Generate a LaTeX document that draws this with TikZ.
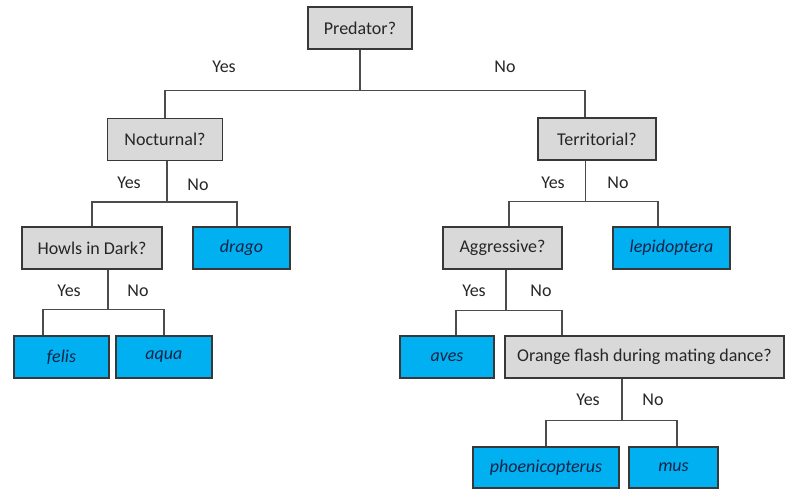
\documentclass[tikz,border=0pt]{standalone}
\usepackage{fontspec}
\setmainfont{Carlito}
\begin{document}
\begin{tikzpicture}[x=1pt,y=-1pt,
  font=\fontsize{18}{20}\selectfont,
  box/.style={draw=black!78,line width=1.4pt,minimum height=42pt,inner sep=0pt,anchor=center},
  question/.style={box,fill=black!15,text=black!85},
  leaf/.style={box,fill=cyan!70!blue!90!white,fill={rgb,255:red,0;green,176;blue,240},text={rgb,255:red,20;green,35;blue,70},font=\fontsize{18}{20}\selectfont\itshape},
  link/.style={draw=black!70,line width=1.4pt},
  lbl/.style={text=black!85,inner sep=0pt}]
\useasboundingbox (0,0) rectangle (788,489);

% decision nodes
\node[question,minimum width=104pt] (pred)  at (360,28)   {Predator?};
\node[question,minimum width=115pt] (noct)  at (165,139.5) {Nocturnal?};
\node[question,minimum width=118pt] (terr)  at (597,139)  {Territorial?};
\node[question,minimum width=140pt] (howl)  at (92,248)   {Howls in Dark?};
\node[question,minimum width=119pt] (aggr)  at (502.5,248) {Aggressive?};
\node[question,minimum width=279pt] (orng)  at (644.5,357) {Orange flash during mating dance?};

% leaves
\node[leaf,minimum width=97pt]  (drago) at (241.5,248) {drago};
\node[leaf,minimum width=117pt] (lepi)  at (671.5,248) {lepidoptera};
\node[leaf,minimum width=95pt]  (felis) at (61.5,357)  {felis};
\node[leaf,minimum width=96pt]  (aqua)  at (164,357)   {aqua};
\node[leaf,minimum width=94pt]  (aves)  at (447,357)   {aves};
\node[leaf,minimum width=146pt,minimum height=41pt] (phoe) at (546,467.5) {phoenicopterus};
\node[leaf,minimum width=89pt,minimum height=41pt]  (mus)  at (673.5,467.5) {mus};

% elbow connectors
\draw[link] (pred.south) -- ++(0,41) coordinate (jpred);
\draw[link] (noct.north) |- (jpred) -| ([xshift=-12pt]terr.north);

\draw[link] ([xshift=2pt]noct.south) -- ++(0,41) coordinate (jnoct);
\draw[link] (howl.north) |- (jnoct) -| ([xshift=-4.5pt]drago.north);

\draw[link] ([xshift=-11.5pt]terr.south) -- ++(0,41) coordinate (jterr);
\draw[link] ([xshift=6.5pt]aggr.north) |- (jterr) -| ([xshift=-13.5pt]lepi.north);

\draw[link] ([xshift=16pt]howl.south) -- ++(0,40) coordinate (jhowl);
\draw[link] ([xshift=-18.5pt]felis.north) |- (jhowl) -| (aqua.north);

\draw[link] ([xshift=3.5pt]aggr.south) -- ++(0,41) coordinate (jaggr);
\draw[link] ([xshift=9pt]aves.north) |- (jaggr) -| ([xshift=-82.5pt]orng.north);

\draw[link] ([xshift=-22.5pt]orng.south) -- ++(0,42) coordinate (jorng);
\draw[link] (phoe.north) |- (jorng) -| ([xshift=3.5pt]mus.north);

% branch labels
\node[lbl] (y1) at (224,67) {Yes};  \node[lbl] (n1) at (505,67) {No};
\node[lbl] (y2) at (129,183) {Yes}; \node[lbl] (n2) at (198,185) {No};
\node[lbl] (y3) at (553,183) {Yes}; \node[lbl] (n3) at (618,183) {No};
\node[lbl] (y4) at (69,291) {Yes};  \node[lbl] (n4) at (138,291) {No};
\node[lbl] (y5) at (474,291) {Yes}; \node[lbl] (n5) at (541,291) {No};
\node[lbl] (y6) at (588,400) {Yes}; \node[lbl] (n6) at (653,400) {No};
\end{tikzpicture}
\end{document}
